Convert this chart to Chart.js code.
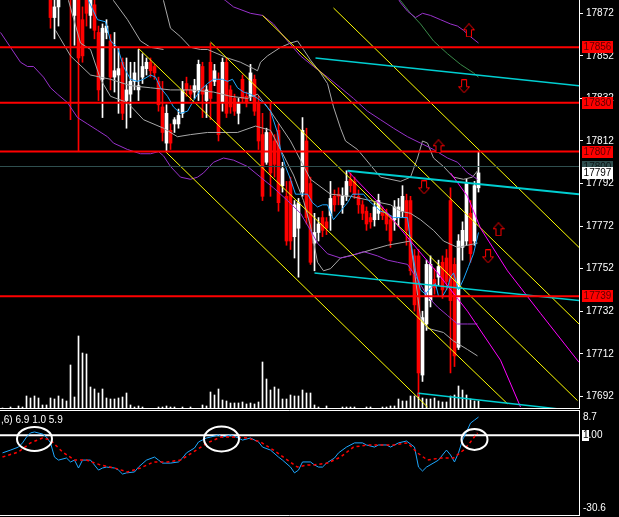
<!DOCTYPE html>
<html>
<head>
<meta charset="utf-8">
<script src="https://cdn.jsdelivr.net/npm/chart.js@4/dist/chart.umd.min.js"></script>
<style>
  html, body { margin: 0; padding: 0; background: #000; }
  #wrap { position: relative; width: 619px; height: 517px; background: #000; overflow: hidden; }
  #main { position: absolute; left: 0; top: 0; }
  #osc { position: absolute; left: 0; top: 410px; }
</style>
</head>
<body>
<div id="wrap">
  <canvas id="main" width="619" height="409"></canvas>
  <canvas id="osc" width="619" height="107"></canvas>
</div>
<script>
// --- candles (one per bar, index 0..119) ---
const open = [17895,17898,17893,17899,17896,17892,17897,17890,17895,17889,17893,17888,17886,17870,17875,17888,17885,17895,17871,17890,
  17869,17885,17871,17876,17863,17841,17863,17859,17842,17843,17849,17831,17834,17840,17836,17842,17846,17849,17847,17840,
  17828,17811,17817,17820,17820,17825,17839,17836,17835,17836,17847,17831,17849,17840,17841,17830,17849,17836,17832,17825,
  17841,17833,17833,17841,17830,17815,17802,17816,17812,17817,17791,17786,17793,17767,17771,17788,17812,17792,17764,17769,
  17776,17774,17777,17786,17787,17782,17786,17794,17793,17786,17782,17779,17776,17775,17778,17779,17778,17775,17775,17776,
  17779,17784,17784,17758,17758,17702,17726,17737,17747,17748,17755,17757,17784,17754,17715,17762,17765,17778,17765,17790];
const high = [17902,17901,17903,17902,17899,17900,17900,17898,17898,17896,17895,17891,17890,17880,17889,17892,17893,17898,17886,17895,
  17875,17888,17885,17880,17866,17867,17869,17862,17863,17856,17851,17851,17849,17849,17855,17853,17851,17851,17848,17842,
  17840,17829,17820,17823,17827,17840,17842,17838,17841,17850,17849,17838,17858,17848,17844,17851,17851,17838,17834,17832,
  17843,17835,17848,17843,17833,17825,17818,17830,17815,17820,17802,17793,17795,17784,17785,17823,17818,17795,17778,17776,
  17779,17776,17793,17789,17790,17790,17798,17797,17795,17789,17784,17781,17778,17783,17787,17781,17780,17777,17784,17785,
  17791,17787,17786,17761,17761,17732,17756,17758,17752,17756,17758,17761,17790,17757,17768,17774,17794,17784,17793,17807];
const low = [17890,17890,17891,17892,17888,17889,17886,17887,17885,17884,17884,17880,17865,17860,17866,17882,17881,17822,17857,17807,
  17849,17866,17865,17860,17831,17823,17860,17836,17835,17825,17822,17818,17823,17836,17831,17839,17843,17842,17841,17826,
  17812,17807,17808,17816,17818,17823,17833,17831,17832,17831,17823,17823,17822,17838,17812,17826,17823,17825,17824,17820,
  17830,17828,17831,17824,17808,17784,17801,17786,17795,17779,17788,17763,17761,17757,17748,17786,17773,17754,17751,17765,
  17767,17768,17770,17779,17782,17778,17784,17788,17785,17778,17775,17770,17771,17772,17775,17775,17770,17762,17770,17772,
  17776,17763,17749,17732,17692,17699,17723,17734,17740,17744,17738,17742,17703,17706,17714,17756,17763,17755,17763,17788];
const close = [17898,17893,17899,17896,17892,17897,17890,17895,17889,17893,17888,17884,17870,17875,17885,17885,17889,17882,17882,17851,
  17852,17872,17880,17864,17836,17865,17866,17842,17845,17846,17825,17836,17840,17844,17838,17847,17849,17845,17844,17829,
  17816,17825,17811,17822,17824,17836,17836,17834,17838,17848,17834,17836,17832,17845,17815,17849,17825,17828,17826,17830,
  17832,17830,17844,17826,17812,17786,17816,17797,17801,17783,17799,17765,17765,17782,17783,17817,17776,17755,17769,17773,
  17770,17771,17785,17782,17786,17786,17793,17791,17787,17782,17778,17773,17774,17781,17784,17777,17773,17765,17781,17781,
  17786,17770,17751,17735,17703,17729,17754,17754,17743,17753,17742,17746,17737,17711,17765,17770,17792,17759,17791,17797];
const volume = [1,0,2,0,3,2,13,11,13,11,4,4,11,10,13,10,8,44,12,73,
  56,55,22,20,16,20,11,10,10,11,12,16,4,2,3,2,0,0,0,2,
  2,3,2,2,0,2,0,2,0,0,4,3,17,14,20,9,8,6,6,6,
  7,5,6,5,7,47,30,19,22,20,10,10,14,13,13,19,16,16,4,2,
  0,3,0,0,0,2,2,2,2,0,0,2,2,0,0,2,2,3,3,10,
  8,8,13,13,16,11,10,10,11,8,7,7,13,14,23,19,14,10,8,8];

// --- price axis ---
const mainTicks = [17872, 17852, 17832, 17812, 17792, 17772, 17752, 17732, 17712, 17692];
const redLevels = [17856, 17830, 17807, 17739];
const grayLevel = 17800;
const lastPrice = 17797;

// --- moving average (blue) ---
const maK = [19.5,21.5,23.75,25.75,27,28.75,30.25,32,33.75,35.25,37,38.25,39.5,41.25,42.75,44.5,46.25,47.75,49.5,51.25,
  52.75,55,56.25,57.5,58.75,60.25,62,63.75,65.25,67,68.75,69.5,70.75,72,73.25,74.5,76.25,77.5,78.75,80,
  81.25,82.75,84.5,86.25,87.5,88.75,90.25,91.5,92.75,94.5,96.25,97.75,99.5,101.25,102,103.25,104.5,105.75,107,108.25,
  109,110,111.25,112,112.75,114,115.25,116.5,117.75,119];
const maP = [17887,17878,17869,17868,17859,17856,17847,17841,17840,17841,17843,17842,17837,17833,17828,17825,17826,17831,17836,17839,
  17841,17841,17840,17841,17837,17835,17834,17832,17830,17826,17816,17808,17800,17794,17787,17787,17787,17783,17781,17782,
  17782,17775,17779,17783,17787,17787,17787,17784,17782,17779,17778,17776,17776,17776,17765,17751,17742,17740,17743,17745,
  17739,17739,17743,17748,17750,17742,17747,17753,17759,17769];

// --- bands (silver) ---
const bandUpAK = [25.75, 27.75, 31.25, 34.5, 37, 40.25];
const bandUpAP = [17888, 17878, 17869, 17859, 17856, 17855];
const bandUpK = [39.5,40.25,42,44.5,47,49.5,51.25,56.25,59.5,62.75,63.75,64.5,66.25,69.5,72,73.75,75.25,77,79.5,81.25,
  82.75,84.5,85.75,88.75,94.5,99.5,102,103.75,105,106.25,107.75,110.25,112.75,115.25,117.5,118.75];
const bandUpP = [17888,17878,17865,17861,17856,17855,17855,17851,17849,17846,17845,17849,17852,17856,17858,17859,17855,17850,17844,17839,
  17828,17818,17812,17808,17795,17793,17795,17804,17812,17811,17804,17800,17795,17794,17795,17798];
const bandMidK = [13.25,17,22,27,32,37,42,47,52.75,57,61.25,63.75,67,69.5,72,74.5,77,82,87,92,97,99.5,102,104.5,107.75,110.25,113.75,116.25,118.75];
const bandMidP = [17864,17852,17843,17841,17838,17837,17836,17836,17835,17833,17832,17834,17826,17819,17812,17803,17794,17787,17786,17784,
  17782,17779,17778,17775,17770,17765,17762,17763,17764];
const bandLowK = [14.5,16.5,19.5,22,24.5,27,31.25,35.25,40.25,43.75,47,51.25,58.75,63.25,67,69.5,72.75,75.25,77,78.75,
  80.25,82,84.5,88.75,96.25,102,104.5,106.25,110.25,112.75,116.25,118.75];
const bandLowP = [17888,17878,17858,17855,17841,17833,17830,17822,17818,17814,17815,17816,17816,17819,17817,17808,17796,17784,17772,17755,
  17751,17752,17757,17759,17763,17765,17729,17724,17722,17718,17714,17711];

// --- envelopes (purple) and green ---
const env1K = [-0.5,2,4.5,6.25,7.75,10.25,12,13.75,16.25,18.75,21.25,23.75,26.25,27.75,31.25,34.5,37,39,40.25,42,
  44.5,47,48.75,50.25,52.75,55.25,57.75,61.25,64.5,67.75,71.25,74.5,77,78.75,81.25,84.5,87,90.25,93.75,96.25,
  98.75,101.25,103.75,106.25,108.75,111.25,113.75,116.25,118.75];
const env1P = [17863,17856,17849,17847,17847,17842,17837,17834,17830,17823,17820,17817,17814,17811,17808,17806,17806,17807,17805,17800,
  17795,17794,17795,17797,17802,17804,17803,17800,17795,17790,17784,17778,17770,17764,17759,17757,17758,17760,17758,17756,
  17755,17754,17747,17739,17734,17730,17726,17726,17726];
const env2K = [52,55.75,57.75,62,65,67.75,71.25,74.5,77.75,81.25,84.5,87.75,91.25,94.5,97.75,101.25,104.5,107.75,111.25,113.75,116.25,118.75];
const env2P = [17883,17878,17875,17872,17871,17867,17859,17852,17847,17842,17837,17832,17826,17822,17818,17814,17811,17808,17804,17802,17797,17794];
const env3K = [98.25,99.5,101.25,103.25,105,107,109.5,112,113.75,115.25,117,119];
const env3P = [17881,17877,17873,17870,17872,17871,17869,17867,17866,17864,17861,17858];
const greenK = [98.5,99.5,102,104.5,107.75,111.25,114.5,117.75,119];
const greenP = [17881,17878,17872,17867,17859,17853,17848,17844,17842];

// --- channel lines: [fromK, fromP, toK, toP] ---
const cyanFromK = [78.25, 86.25, 78, 104];
const cyanFromP = [17851, 17798, 17750, 17693.5];
const cyanToK = [144.125, 144.125, 144.125, 144.125];
const cyanToP = [17838, 17787, 17737, 17685];
const yellowFromK = [40.75, 34, 52, 65, 82.75];
const yellowFromP = [17807, 17855.5, 17858.5, 17871, 17874.5];
const yellowToK = [106.25, 126.25, 143.75, 144.125, 144.125];
const yellowToP = [17687, 17688.5, 17690, 17726, 17762];
const magentaAK = [86.25, 94.5, 102, 108.75, 116.25, 124.5, 129.5];
const magentaAP = [17798, 17782, 17765, 17750, 17732, 17709, 17687];
const magentaBK = [112, 116.25, 119.5, 126.25, 134.5, 144.125];
const magentaBP = [17797, 17786, 17771, 17751, 17731, 17708];

// --- signal arrows ---
const upArrowK = [116.6, 109, 124];
const upArrowP = [17864, 17809.5, 17770.5];
const downArrowK = [115.4, 105.4, 121.4];
const downArrowP = [17837.7, 17790.2, 17757.8];

// --- oscillator panel ---
const oscTicks = [8.7, 1.0, -30.6];
const oscLevel = 1.0;
const oscK = [0,2,4,5,6,7,8,10,11,12,13,14,16,17,18,19,20,22,24,25,26,28,29,30,31,33,34,36,38,39,
  40,42,44,45,46,48,49,51,52,54,55,57,59,60,62,64,65,67,69,70,72,73,74,75,77,78,79,80,81,83,
  84,86,88,90,91,93,94,96,97,99,101,103,104,105,106,109,110,111,112,113,114,115,116,117,118,119];
const oscV = [-6.6,-5.4,-4.1,-2.3,0.2,2.0,2.4,1.5,0.2,-2.3,-8.4,-9.7,-8.8,-10.5,-9.7,-13.1,-9.7,-9.7,-14.0,-13.1,
  -12.7,-13.1,-14.0,-15.7,-15.2,-14.8,-12.7,-9.7,-8.4,-9.7,-11.0,-11.0,-10.5,-8.8,-6.6,-4.5,-1.9,-0.2,0.2,1.1,
  0.2,1.1,-0.2,-1.1,-0.2,-1.9,-4.1,-5.4,-8.4,-9.7,-12.7,-15.2,-14.0,-10.5,-10.5,-11.8,-12.7,-12.7,-11.0,-8.8,
  -6.6,-4.1,-2.3,-2.3,-3.2,-4.1,-3.2,-3.2,-4.1,-2.3,-1.5,-4.1,-12.7,-14.4,-12.7,-9.7,-7.5,-5.4,-7.5,-10.5,
  -6.6,-1.1,2.4,6.2,7.5,8.8];
const sigK = [0,4,7,10,12,15,18,21,24.5,28,31.25,34.5,37.75,41.25,44.5,47.75,51.25,54.5,57.75,61.25,
  64.5,67.75,71.25,73.75,76.25,77.75,81.25,84.5,87.75,91.25,94.5,97.75,101.25,103.75,106.25,109.5,112.75,115.25,117,118.75];
const sigV = [-8.4,-6.2,-2.3,-0.2,-1.1,-6.2,-9.7,-9.7,-11.8,-13.1,-14.8,-13.1,-10.5,-10.5,-9.7,-6.2,-2.3,0.2,0.2,-0.2,
  -1.9,-5.4,-9.7,-12.7,-11.8,-11.8,-11.0,-8.4,-4.1,-3.2,-3.2,-3.2,-2.3,-6.6,-9.7,-8.8,-8.8,-5.4,-1.9,2.0];
const oscTitle = ',6) 6.9 1.0 5.9';
const ringK = [8, 54.75, 118];
const ringV = [-0.6, -0.6, -0.8];

// ---------------------------------------------------------------
const X_MIN = -0.625, X_MAX = 144.125;
const FONT = 'Liberation Sans';

const pts = (xs, ys) => xs.map((x, i) => ({ x, y: ys[i] }));
const idx = open.map((_, i) => i);
const barColor = idx.map(i => close[i] >= open[i] ? '#ffffff' : '#ff0000');

function line(xs, ys, color, width, order, extra) {
    return Object.assign({
        type: 'line', data: pts(xs, ys), borderColor: color, borderWidth: width,
        pointRadius: 0, tension: 0, fill: false, order,
    }, extra || {});
}

function arrowImage(up) {
    const c = document.createElement('canvas');
    c.width = 12; c.height = 14;
    const g = c.getContext('2d');
    const shape = [[6, 0.5], [11.5, 6.5], [8.5, 6.5], [8.5, 13.5], [3.5, 13.5], [3.5, 6.5], [0.5, 6.5]];
    g.beginPath();
    shape.forEach(([px, py], i) => {
        const yy = up ? py : 14 - py;
        if (i) g.lineTo(px, yy); else g.moveTo(px, yy);
    });
    g.closePath();
    g.fillStyle = '#000'; g.fill();
    g.strokeStyle = '#ff0000'; g.lineWidth = 1; g.stroke();
    return c;
}

// 主圖的數據集
const mainSets = [
    { type: 'bar', data: idx.map(i => ({ x: i, y: volume[i] })), yAxisID: 'yVol',
      backgroundColor: '#ffffff', barThickness: 1, grouped: false, order: 30 },
    { type: 'bar', data: idx.map(i => ({ x: i, y: [low[i], high[i]] })), yAxisID: 'y',
      backgroundColor: barColor, barThickness: 1, grouped: false, order: 29 },
    { type: 'bar', data: idx.map(i => ({ x: i, y: [open[i], close[i]] })), yAxisID: 'y',
      backgroundColor: barColor, barThickness: 3, minBarLength: 1, grouped: false, order: 28 },
    line(bandUpAK, bandUpAP, '#a8a8a8', 1, 20),
    line(bandUpK, bandUpP, '#a8a8a8', 1, 20),
    line(bandMidK, bandMidP, '#a8a8a8', 1, 20),
    line(bandLowK, bandLowP, '#a8a8a8', 1, 20),
    line(env1K, env1P, '#9932cc', 1, 19),
    line(env2K, env2P, '#9932cc', 1, 19),
    line(env3K, env3P, '#9932cc', 1, 19),
    line(greenK, greenP, '#3a8a4a', 1, 19),
    line(maK, maP, '#1ea8ff', 1, 15),
];
yellowFromK.forEach((k, i) => mainSets.push(line([k, yellowToK[i]], [yellowFromP[i], yellowToP[i]], '#ffff00', 1, 12)));
cyanFromK.forEach((k, i) => mainSets.push(line([k, cyanToK[i]], [cyanFromP[i], cyanToP[i]], '#00ced1', i === 1 ? 2 : 1.5, 11)));
mainSets.push(line(magentaAK, magentaAP, '#ff00ff', 1, 11));
mainSets.push(line(magentaBK, magentaBP, '#ff00ff', 1, 11));
mainSets.push(line([X_MIN, X_MAX], [grayLevel, grayLevel], '#2f4f4f', 1, 10));
redLevels.forEach(v => mainSets.push(line([X_MIN, X_MAX], [v, v], '#ff0000', 2, 9)));
mainSets.push(line(upArrowK, upArrowP, '#ff0000', 0, 1, { showLine: false, pointRadius: 6, pointStyle: arrowImage(true) }));
mainSets.push(line(downArrowK, downArrowP, '#ff0000', 0, 1, { showLine: false, pointRadius: 6, pointStyle: arrowImage(false) }));

const mainDecor = {
    id: 'mainDecor',
    afterDraw(chart) {
        const { ctx, chartArea: a } = chart;
        const y = chart.scales.y;
        ctx.save();
        ctx.strokeStyle = '#ffffff';
        ctx.lineWidth = 1;
        ctx.beginPath();
        ctx.moveTo(0, a.bottom - 0.5);
        ctx.lineTo(a.right + 1, a.bottom - 0.5);
        ctx.stroke();

        ctx.font = `10px "${FONT}"`;
        ctx.textAlign = 'center';
        ctx.textBaseline = 'middle';
        const tag = (v, bg, fg) => {
            const py = Math.round(y.getPixelForValue(v));
            ctx.fillStyle = bg;
            ctx.fillRect(a.right + 3, py - 6, 31, 12);
            ctx.fillStyle = fg;
            ctx.fillText(String(v), a.right + 18.5, py + 0.5);
        };
        redLevels.forEach(v => tag(v, '#ff0000', '#5a0000'));
        tag(grayLevel, '#2f4f4f', '#0c1414');
        tag(lastPrice, '#ffffff', '#000000');
        ctx.restore();
    },
};

new Chart(document.getElementById('main'), {
    type: 'bar',
    data: { datasets: mainSets },
    options: {
        responsive: false,
        animation: false,
        events: [],
        layout: { padding: 0, autoPadding: false },
        plugins: { legend: { display: false }, tooltip: { enabled: false } },
        scales: {
            x: { type: 'linear', display: false, offset: false, min: X_MIN, max: X_MAX },
            y: {
                type: 'linear', position: 'right', min: 17686.05, max: 17878.25,
                afterBuildTicks: s => { s.ticks = mainTicks.map(v => ({ value: v })); },
                afterFit: s => { s.width = 40; s.paddingTop = 0; s.paddingBottom = 0; },
                grid: { drawOnChartArea: false, drawTicks: true, tickLength: 4, color: '#ffffff' },
                border: { display: true, color: '#ffffff' },
                ticks: { color: '#ffffff', padding: 3, font: { family: FONT, size: 10 }, callback: v => String(v) },
            },
            yVol: { type: 'linear', display: false, min: 0, max: 409 },
        },
    },
    plugins: [mainDecor],
});

// 副圖
const oscDecor = {
    id: 'oscDecor',
    afterDraw(chart) {
        const { ctx, chartArea: a } = chart;
        const { x, y } = chart.scales;
        ctx.save();
        ctx.strokeStyle = '#ffffff';
        ctx.lineWidth = 1;
        ctx.beginPath();
        ctx.moveTo(0, 0.5); ctx.lineTo(a.right + 0.5, 0.5);
        ctx.moveTo(0, a.bottom + 0.5); ctx.lineTo(a.right + 0.5, a.bottom + 0.5);
        ctx.moveTo(a.right + 0.5, 0); ctx.lineTo(a.right + 0.5, a.bottom + 1);
        ctx.stroke();

        ctx.font = `10px "${FONT}"`;
        ctx.fillStyle = '#ffffff';
        ctx.textBaseline = 'alphabetic';
        ctx.textAlign = 'left';
        ctx.fillText(oscTitle, 1, 13);

        ctx.lineWidth = 2;
        const rx = [17.5, 17.5, 13], ry = [12, 12.5, 10.5];
        ringK.forEach((k, i) => {
            ctx.beginPath();
            ctx.ellipse(x.getPixelForValue(k), y.getPixelForValue(ringV[i]), rx[i], ry[i], 0, 0, Math.PI * 2);
            ctx.stroke();
        });

        const py = Math.round(y.getPixelForValue(oscLevel));
        const lx = a.right + 4;
        const w1 = ctx.measureText('1').width;
        ctx.fillStyle = '#ffffff';
        ctx.fillRect(lx - 1, py - 5, Math.ceil(w1) + 1, 11);
        ctx.fillStyle = '#000000';
        ctx.textBaseline = 'middle';
        ctx.fillText('1', lx, py + 0.5);
        ctx.restore();
    },
};

new Chart(document.getElementById('osc'), {
    type: 'line',
    data: {
        datasets: [
            line([X_MIN, X_MAX], [oscLevel, oscLevel], '#ffffff', 2, 3),
            line(oscK, oscV, '#1ea8ff', 1, 2),
            line(sigK, sigV, '#ff0000', 1.5, 1, { borderDash: [3, 3] }),
        ],
    },
    options: {
        responsive: false,
        animation: false,
        events: [],
        layout: { padding: { top: 1, bottom: 2, left: 0, right: 0 }, autoPadding: false },
        plugins: { legend: { display: false }, tooltip: { enabled: false } },
        scales: {
            x: { type: 'linear', display: false, min: X_MIN, max: X_MAX },
            y: {
                type: 'linear', position: 'right', min: -33.31, max: 11.41,
                afterBuildTicks: s => { s.ticks = oscTicks.map(v => ({ value: v })); },
                afterFit: s => { s.width = 40; s.paddingTop = 0; s.paddingBottom = 0; },
                grid: { drawOnChartArea: false, drawTicks: false },
                border: { display: true, color: '#ffffff' },
                ticks: {
                    color: '#ffffff', padding: 4, font: { family: FONT, size: 10 },
                    callback: v => v === oscLevel ? '1.00' : String(v),
                },
            },
        },
    },
    plugins: [oscDecor],
});
</script>
</body>
</html>
